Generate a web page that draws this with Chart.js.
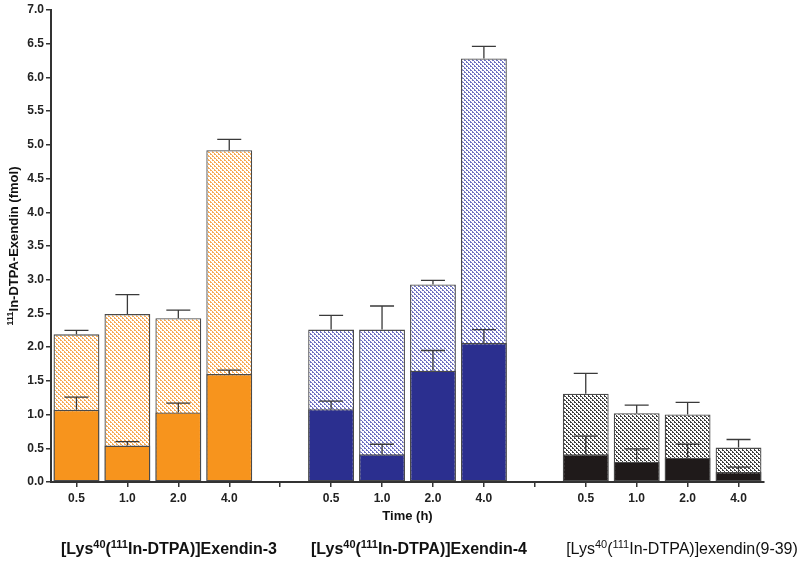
<!DOCTYPE html>
<html>
<head>
<meta charset="utf-8">
<script src="https://cdn.jsdelivr.net/npm/chart.js@4"></script>
<style>
html,body{margin:0;padding:0;background:#fff;}
#wrap{width:800px;height:563px;}
</style>
</head>
<body>
<div id="wrap"><canvas id="c" width="800" height="563"></canvas></div>
<script>
// ---- data ----
const timeLabels = ['0.5', '1.0', '2.0', '4.0'];
const groupNames = ['Exendin-3', 'Exendin-4', 'exendin(9-39)'];

const ex3Total = [2.19, 2.49, 2.43, 4.92];
const ex3TotalErr = [0.06, 0.29, 0.12, 0.16];
const ex3Internal = [1.07, 0.54, 1.03, 1.60];
const ex3InternalErr = [0.19, 0.06, 0.14, 0.06];

const ex4Total = [2.26, 2.26, 2.93, 6.28];
const ex4TotalErr = [0.21, 0.35, 0.06, 0.18];
const ex4Internal = [1.08, 0.41, 1.65, 2.06];
const ex4InternalErr = [0.12, 0.15, 0.30, 0.20];

const ex939Total = [1.31, 1.02, 1.00, 0.51];
const ex939TotalErr = [0.30, 0.12, 0.18, 0.12];
const ex939Internal = [0.41, 0.30, 0.36, 0.15];
const ex939InternalErr = [0.27, 0.19, 0.20, 0.07];

// ---- build category axis (with empty gap slots) ----
function join3(a, b, c) { return [...a, null, ...b, null, ...c]; }
const labels = [...timeLabels, '', ...timeLabels, '', ...timeLabels];
const totalData = join3(ex3Total, ex4Total, ex939Total);
const totalErr = join3(ex3TotalErr, ex4TotalErr, ex939TotalErr);
const internalData = join3(ex3Internal, ex4Internal, ex939Internal);
const internalErr = join3(ex3InternalErr, ex4InternalErr, ex939InternalErr);

function makePattern(color) {
  const c = document.createElement('canvas');
  c.width = 4; c.height = 4;
  const x = c.getContext('2d');
  x.fillStyle = '#ffffff';
  x.fillRect(0, 0, 4, 4);
  x.fillStyle = color;
  const px = [[0,0],[1,0],[2,1],[2,2],[3,2],[0,3]];
  px.forEach(p => x.fillRect(p[0], p[1], 1, 1));
  return x.createPattern(c, 'repeat');
}
const solidColors = ['#F7941D', '#2B2F8F', '#1F1A1A'];
const patterns = [makePattern('#F7AA55'), makePattern('#6E72C2'), makePattern('#3E3E3E')];
function perBar(arr3) { return join3(Array(4).fill(arr3[0]), Array(4).fill(arr3[1]), Array(4).fill(arr3[2])); }

const errorBars = {
  id: 'errorBars',
  afterDatasetsDraw(chart) {
    const ctx = chart.ctx;
    const yS = chart.scales.y;
    ctx.save();
    ctx.strokeStyle = '#3a3a3a';
    ctx.lineWidth = 1.3;
    chart.data.datasets.forEach((ds, di) => {
      const meta = chart.getDatasetMeta(di);
      meta.data.forEach((bar, i) => {
        const v = ds.data[i];
        if (v == null) return;
        const e = ds.errors[i];
        const y0 = yS.getPixelForValue(v);
        const y1 = yS.getPixelForValue(v + e);
        ctx.beginPath();
        ctx.moveTo(bar.x, y0);
        ctx.lineTo(bar.x, y1);
        ctx.moveTo(bar.x - 12, y1);
        ctx.lineTo(bar.x + 12, y1);
        ctx.stroke();
      });
    });
    ctx.restore();
  }
};

function drawRich(ctx, parts, cx, y, size, bold) {
  const w = bold ? 'bold ' : '';
  let total = 0;
  parts.forEach(p => {
    ctx.font = w + (p.sup ? Math.round(size * 0.68) : size) + 'px "Liberation Sans", Arial, sans-serif';
    p.w = ctx.measureText(p.t).width;
    total += p.w;
  });
  let x = cx - total / 2;
  parts.forEach(p => {
    ctx.font = w + (p.sup ? Math.round(size * 0.68) : size) + 'px "Liberation Sans", Arial, sans-serif';
    ctx.fillText(p.t, x, p.sup ? y - size * 0.4 : y);
    x += p.w;
  });
}

const texts = {
  id: 'texts',
  afterDraw(chart) {
    const ctx = chart.ctx;
    ctx.save();
    ctx.fillStyle = '#111';
    ctx.textBaseline = 'alphabetic';
    ctx.textAlign = 'left';
    const xS = chart.scales.x;
    // axis title
    ctx.font = 'bold 13px "Liberation Sans", Arial, sans-serif';
    ctx.textAlign = 'center';
    ctx.fillText('Time (h)', (xS.left + xS.right) / 2, 520);
    ctx.textAlign = 'left';
    // group labels
    const centers = [169, 419, 682];
    groupNames.forEach((g, i) => {
      const parts = [{t: '[Lys'}, {t: '40', sup: true}, {t: '('}, {t: '111', sup: true}, {t: 'In-DTPA)]' + g}];
      drawRich(ctx, parts, centers[i], 554, 16, i < 2);
    });
    // y title
    ctx.save();
    ctx.translate(18, (chart.chartArea.top + chart.chartArea.bottom) / 2);
    ctx.rotate(-Math.PI / 2);
    drawRich(ctx, [{t: '111', sup: true}, {t: 'In-DTPA-Exendin (fmol)'}], 0, 0, 13, true);
    ctx.restore();
    ctx.restore();
  }
};

new Chart(document.getElementById('c'), {
  type: 'bar',
  data: {
    labels: labels,
    datasets: [
      {
        label: 'internalized',
        data: internalData,
        errors: internalErr,
        backgroundColor: perBar(solidColors),
        borderColor: '#4a4a4a',
        borderWidth: 1.3,
        borderSkipped: false,
        barPercentage: 0.9,
        categoryPercentage: 1.0
      },
      {
        label: 'total',
        data: totalData,
        errors: totalErr,
        backgroundColor: perBar(patterns),
        borderColor: '#4a4a4a',
        borderWidth: 1.3,
        borderSkipped: false,
        barPercentage: 0.9,
        categoryPercentage: 1.0
      }
    ]
  },
  options: {
    responsive: false,
    animation: false,
    devicePixelRatio: 1,
    layout: { padding: { top: 10, right: 36, left: 0, bottom: 0 } },
    plugins: { legend: { display: false }, tooltip: { enabled: false } },
    scales: {
      x: {
        stacked: true,
        grid: { display: true, offset: false, drawOnChartArea: false, drawTicks: true, tickLength: 5, color: '#333', lineWidth: 1.5 },
        border: { display: true, color: '#333', width: 2 },
        ticks: { color: '#222', font: { family: '"Liberation Sans", Arial, sans-serif', size: 12, weight: 'bold' }, padding: 4, maxRotation: 0, autoSkip: false },
        afterFit(s) { s.height = 81; }
      },
      y: {
        stacked: false,
        min: 0, max: 7,
        grid: { display: true, drawOnChartArea: false, drawTicks: true, tickLength: 5, color: '#333', lineWidth: 1.5 },
        border: { display: true, color: '#333', width: 2 },
        ticks: { stepSize: 0.5, color: '#222', font: { family: '"Liberation Sans", Arial, sans-serif', size: 12, weight: 'bold' }, padding: 2, callback: v => v.toFixed(1) },
        afterFit(s) { s.width = 51; }
      }
    }
  },
  plugins: [errorBars, texts]
});
</script>
</body>
</html>
